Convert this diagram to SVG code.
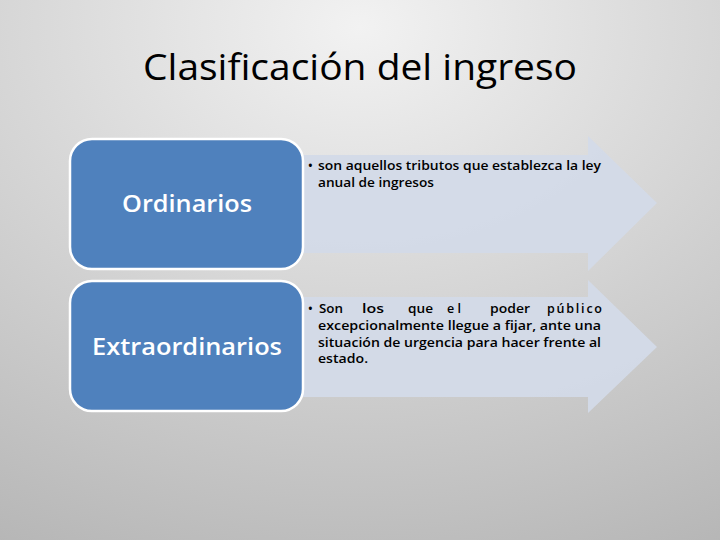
<svg xmlns="http://www.w3.org/2000/svg" width="720" height="540" viewBox="0 0 720 540">
<defs>
<radialGradient id="bg" cx="0.5" cy="0.05" r="1.1">
<stop offset="0" stop-color="#f2f2f2"/>
<stop offset="1" stop-color="#b5b5b5"/>
</radialGradient>
<style>
.arrow{fill:#d3dae8;fill-opacity:0.95}
.box{fill:#4f81bd;stroke:#ffffff;stroke-width:2.5}
.lbl{font-family:"Open Sans","Liberation Sans",sans-serif;font-weight:600;fill:#ffffff;text-anchor:middle}
.txt{font-family:"Open Sans","Liberation Sans",sans-serif;font-size:12.5px;font-weight:600;fill:#000000}
.title{font-family:"Open Sans","Liberation Sans",sans-serif;font-size:36px;font-weight:500;fill:#000000;text-anchor:middle}
</style>
</defs>
<rect width="720" height="540" fill="url(#bg)"/>
<text class="title" x="360" y="80" textLength="434" lengthAdjust="spacingAndGlyphs">Clasificación del ingreso</text>
<g id="connectors">
<path class="arrow" d="M300 155 H588 V136 L657 203 L588 271 V253 H300 Z"/>
<path class="arrow" d="M300 297 H588 V280 L657 347 L588 413 V397 H300 Z"/>
</g>
<g id="node-ordinarios">
<rect class="box" x="70" y="139" width="233" height="130" rx="22"/>
<text class="lbl" x="187" y="212" font-size="23" textLength="130" lengthAdjust="spacingAndGlyphs">Ordinarios</text>
</g>
<g id="node-extraordinarios">
<rect class="box" x="70" y="281" width="233" height="130" rx="22"/>
<text class="lbl" x="187" y="355" font-size="23" textLength="190" lengthAdjust="spacingAndGlyphs">Extraordinarios</text>
</g>
<g id="text-ordinarios">
<text class="txt" x="308" y="170">•</text>
<text class="txt" x="318" y="170" textLength="283" lengthAdjust="spacingAndGlyphs">son aquellos tributos que establezca la ley</text>
<text class="txt" x="318" y="187" textLength="116" lengthAdjust="spacingAndGlyphs">anual de ingresos</text>
</g>
<g id="text-extraordinarios">
<text class="txt" x="308" y="313">•</text>
<text class="txt" x="319" y="313" textLength="24" lengthAdjust="spacingAndGlyphs">Son</text>
<text class="txt" x="362" y="313" textLength="22" lengthAdjust="spacingAndGlyphs">los</text>
<text class="txt" x="408" y="313" textLength="25" lengthAdjust="spacingAndGlyphs">que</text>
<text class="txt" x="447" y="313" textLength="14" lengthAdjust="spacing">el</text>
<text class="txt" x="490" y="313" textLength="40" lengthAdjust="spacingAndGlyphs">poder</text>
<text class="txt" x="547" y="313" textLength="55" lengthAdjust="spacing">público</text>
<text class="txt" x="318" y="330" textLength="283" lengthAdjust="spacingAndGlyphs">excepcionalmente llegue a fijar, ante una</text>
<text class="txt" x="318" y="347" textLength="283" lengthAdjust="spacingAndGlyphs">situación de urgencia para hacer frente al</text>
<text class="txt" x="318" y="363" textLength="50" lengthAdjust="spacingAndGlyphs">estado.</text>
</g>
</svg>
